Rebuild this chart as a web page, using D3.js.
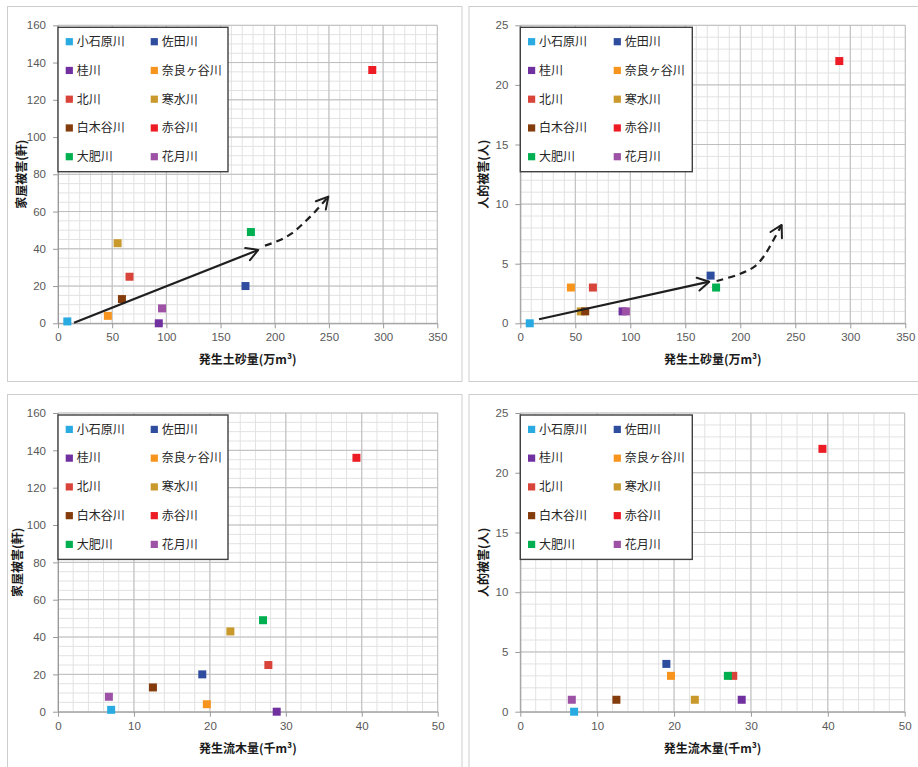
<!DOCTYPE html>
<html><head><meta charset="utf-8">
<script src="https://cdn.jsdelivr.net/npm/d3@7"></script>
<style>html,body{margin:0;padding:0;background:#fff;} svg{display:block;}</style>
</head><body><svg id="c" width="918" height="767"></svg>
<script>
// ---------- data ----------
const rivers = ['小石原川','佐田川','桂川','奈良ヶ谷川','北川','寒水川','白木谷川','赤谷川','大肥川','花月川'];
const riverColors = ['#29abe2','#2e4d9e','#7030a0','#f7941d','#d9443a','#c9992b','#843c0c','#ed1c24','#00b050','#9e52a6'];
const sediment = [8.6, 173, 93, 46, 66, 55, 59, 290, 178, 96];      // 万m3
const driftwood = [7.0, 19.0, 28.8, 19.6, 27.7, 22.7, 12.5, 39.3, 27.0, 6.7]; // 千m3
const houseDamage = [1, 20, 0, 4, 25, 43, 13, 136, 49, 8];          // 軒
const casualties = [0, 4, 1, 3, 3, 1, 1, 22, 3, 1];                 // 人

const sedimentTicks = [0,50,100,150,200,250,300,350];
const driftwoodTicks = [0,10,20,30,40,50];
const houseTicks = [0,20,40,60,80,100,120,140,160];
const casualtyTicks = [0,5,10,15,20,25];

const trendHouseSolid = [[14.8,0.3],[184.8,39.4]];
const trendHouseDashed = [[191,41.7],[204.9,44.7],[215.7,48.3],[226.4,53.7],[237.2,59.9],[249.4,68.0]];
const trendCasualtySolid = [[17,0.34],[171.8,3.49]];
const trendCasualtyDashed = [[178.5,3.55],[200,4.15],[213.5,4.8],[222,5.7],[229,6.8],[237.6,8.25]];

// ---------- layout ----------
const panels = [
  {box:[7,6,454.5,375], l:58, r:437.3, t:25.3, b:323.3,
   xv:sediment, yv:houseDamage, xTicks:sedimentTicks, yTicks:houseTicks, xMinor:10, yMinor:5,
   xTitle:'発生土砂量(万m³)', yTitle:'家屋被害(軒)', yTitleDx:-36, legW:170,
   solid:trendHouseSolid, dashed:trendHouseDashed},
  {box:[468.5,6,460,375], l:520.3, r:905.3, t:25.3, b:323.3,
   xv:sediment, yv:casualties, xTicks:sedimentTicks, yTicks:casualtyTicks, xMinor:10, yMinor:1,
   xTitle:'発生土砂量(万m³)', yTitle:'人的被害(人)', yTitleDx:-36, legW:172,
   solid:trendCasualtySolid, dashed:trendCasualtyDashed},
  {box:[7,394,454.5,380], l:58, r:437.7, t:413, b:711.7,
   xv:driftwood, yv:houseDamage, xTicks:driftwoodTicks, yTicks:houseTicks, xMinor:2, yMinor:5,
   xTitle:'発生流木量(千m³)', yTitle:'家屋被害(軒)', yTitleDx:-40, legW:170},
  {box:[468.5,394,460,380], l:520.3, r:904.7, t:413, b:711.7,
   xv:driftwood, yv:casualties, xTicks:driftwoodTicks, yTicks:casualtyTicks, xMinor:2, yMinor:1,
   xTitle:'発生流木量(千m³)', yTitle:'人的被害(人)', yTitleDx:-36, legW:172}
];

const svg = d3.select('#c');
svg.append('rect').attr('width',918).attr('height',767).attr('fill','#fff');

const defs = svg.append('defs');
defs.append('marker').attr('id','chev')
  .attr('markerUnits','userSpaceOnUse').attr('viewBox','-14 -9 16 18')
  .attr('markerWidth',16).attr('markerHeight',18).attr('refX',0).attr('refY',0)
  .attr('orient','auto')
  .append('path').attr('d','M-11.5,-6.5 L0,0 L-11.5,6.5')
  .attr('fill','none').attr('stroke','#1f1f1f').attr('stroke-width',2)
  .attr('stroke-linecap','round').attr('stroke-linejoin','round');

const tickFont = '"Liberation Sans", Arial, sans-serif';
const cjkFont = '"Noto Sans CJK JP", "Noto Sans", sans-serif';

panels.forEach(p => {
  const g = svg.append('g');
  g.append('rect').attr('x',p.box[0]+0.5).attr('y',p.box[1]+0.5)
    .attr('width',p.box[2]).attr('height',p.box[3])
    .attr('fill','#fff').attr('stroke','#cdcdcd').attr('stroke-width',1);

  const xMax = p.xTicks[p.xTicks.length-1], yMax = p.yTicks[p.yTicks.length-1];
  const x = d3.scaleLinear().domain([0,xMax]).range([p.l,p.r]);
  const y = d3.scaleLinear().domain([0,yMax]).range([p.b,p.t]);

  // minor grid
  const gm = g.append('g').attr('stroke','#e2e2e2').attr('stroke-width',1);
  d3.range(0,xMax+1e-9,p.xMinor).forEach(v => gm.append('line')
    .attr('x1',x(v)).attr('x2',x(v)).attr('y1',p.t).attr('y2',p.b));
  d3.range(0,yMax+1e-9,p.yMinor).forEach(v => gm.append('line')
    .attr('y1',y(v)).attr('y2',y(v)).attr('x1',p.l).attr('x2',p.r));
  // major grid
  const gM = g.append('g').attr('stroke','#bdbdbd').attr('stroke-width',1);
  p.xTicks.forEach(v => gM.append('line')
    .attr('x1',x(v)).attr('x2',x(v)).attr('y1',p.t).attr('y2',p.b));
  p.yTicks.forEach(v => gM.append('line')
    .attr('y1',y(v)).attr('y2',y(v)).attr('x1',p.l).attr('x2',p.r));

  // axes
  const ax = g.append('g').attr('transform',`translate(0,${p.b})`)
    .call(d3.axisBottom(x).tickValues(p.xTicks).tickSize(5).tickSizeOuter(0).tickPadding(5));
  const ay = g.append('g').attr('transform',`translate(${p.l},0)`)
    .call(d3.axisLeft(y).tickValues(p.yTicks).tickSize(5).tickSizeOuter(0).tickPadding(7));
  [ax,ay].forEach(a => {
    a.select('.domain').attr('stroke','#9a9a9a');
    a.selectAll('.tick line').attr('stroke','#9a9a9a');
    a.selectAll('.tick text').attr('fill','#595959')
      .style('font-family',tickFont).style('font-size','11.5px');
  });

  // titles
  g.append('text').attr('x',(p.l+p.r)/2).attr('y',p.b+41)
    .attr('text-anchor','middle').attr('fill','#1a1a1a')
    .style('font-family',cjkFont).style('font-weight','bold').style('font-size','12px')
    .text(p.xTitle);
  const cy = (p.t+p.b)/2;
  g.append('text').attr('transform',`translate(${p.l+p.yTitleDx+4},${cy}) rotate(-90)`)
    .attr('text-anchor','middle').attr('fill','#1a1a1a')
    .style('font-family',cjkFont).style('font-weight','bold').style('font-size','12px')
    .text(p.yTitle);

  // points
  const ms = 8;
  rivers.forEach((name,i) => {
    g.append('rect').attr('x',x(p.xv[i])-ms/2).attr('y',y(p.yv[i])-ms/2)
      .attr('width',ms).attr('height',ms).attr('fill',riverColors[i]);
  });

  // trend arrows
  if (p.solid) {
    const line = d3.line().x(d=>x(d[0])).y(d=>y(d[1]));
    g.append('path').attr('d',line(p.solid)).attr('fill','none')
      .attr('stroke','#1f1f1f').attr('stroke-width',2.2).attr('marker-end','url(#chev)');
    const cl = d3.line().x(d=>x(d[0])).y(d=>y(d[1])).curve(d3.curveCatmullRom.alpha(0.5));
    g.append('path').attr('d',cl(p.dashed)).attr('fill','none')
      .attr('stroke','#1f1f1f').attr('stroke-width',2.2).attr('stroke-dasharray','7,5')
      .attr('marker-end','url(#chev)');
  }

  // legend
  const lx = p.l, ly = p.t + 2;
  const lg = g.append('g').attr('transform',`translate(${lx},${ly})`);
  lg.append('rect').attr('x',0).attr('y',0).attr('width',p.legW).attr('height',144.4)
    .attr('fill','#fff').attr('stroke','#404040').attr('stroke-width',1.4);
  rivers.forEach((name,i) => {
    const col = i % 2, row = Math.floor(i/2);
    const ry = 14.4 + row*28.75;
    const mx = col === 0 ? 11.3 : (p.legW === 170 ? 96.3 : 97);
    lg.append('rect').attr('x',mx-3.6).attr('y',ry-3.6).attr('width',7.2).attr('height',7.2)
      .attr('fill',riverColors[i]);
    lg.append('text').attr('x',mx+7.4).attr('y',ry).attr('dy','0.36em')
      .attr('fill','#262626').style('font-family',cjkFont).style('font-size','12px')
      .text(name);
  });
});
</script></body></html>
